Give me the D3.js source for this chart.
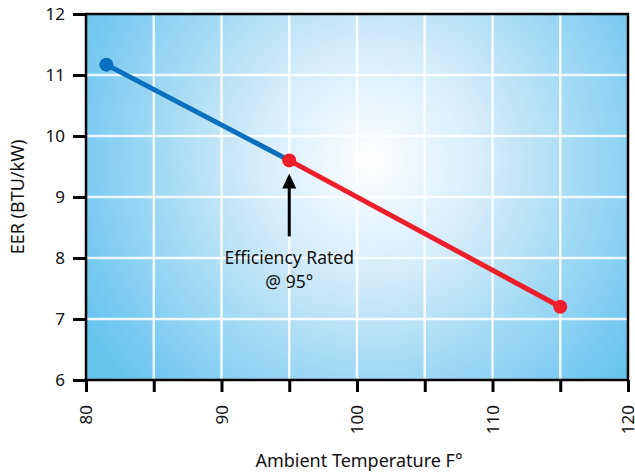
<!DOCTYPE html>
<html>
<head>
<meta charset="utf-8">
<script src="https://cdn.jsdelivr.net/npm/d3@7/dist/d3.min.js"></script>
<style>
  body { margin: 0; background: #fff; }
  svg text { font-family: "Noto Sans", sans-serif; fill: #111; }
</style>
</head>
<body>
<svg id="chart" width="635" height="476"></svg>
<script>
// values
var blueTemps = [81.5, 95];
var blueEer = [11.17, 9.6];
var redTemps = [95, 115];
var redEer = [9.6, 7.2];
var xTicks = [80, 90, 100, 110, 120];
var xMinor = [80, 85, 90, 95, 100, 105, 110, 115, 120];
var yTicks = [6, 7, 8, 9, 10, 11, 12];
var noteTemp = 95;
var noteLines = ['Efficiency Rated', '@ 95°'];

var margin = { top: 14, right: 7, bottom: 96, left: 86 };
var width = 635 - margin.left - margin.right;
var height = 476 - margin.top - margin.bottom;

var svg = d3.select('#chart');
var g = svg.append('g').attr('transform', 'translate(' + margin.left + ',' + margin.top + ')');

var x = d3.scaleLinear().domain([80, 120]).range([0, width]);
var y = d3.scaleLinear().domain([6, 12]).range([height, 0]);

var defs = svg.append('defs');
var grad = defs.append('radialGradient')
    .attr('id', 'bg')
    .attr('gradientUnits', 'userSpaceOnUse')
    .attr('cx', 285).attr('cy', 146).attr('r', 330);
grad.append('stop').attr('offset', '0%').attr('stop-color', '#ffffff');
grad.append('stop').attr('offset', '35%').attr('stop-color', '#d4ecfa');
grad.append('stop').attr('offset', '100%').attr('stop-color', '#66c3ee');

g.append('rect')
    .attr('width', width).attr('height', height)
    .attr('fill', 'url(#bg)');

// grid
g.append('g').selectAll('line')
    .data(xMinor.slice(1, -1))
    .enter().append('line')
    .attr('x1', function (d) { return x(d); })
    .attr('x2', function (d) { return x(d); })
    .attr('y1', 0).attr('y2', height)
    .attr('stroke', 'rgba(255,255,255,0.85)')
    .attr('stroke-width', 2.5);
g.append('g').selectAll('line')
    .data(yTicks.slice(1, -1))
    .enter().append('line')
    .attr('y1', function (d) { return y(d); })
    .attr('y2', function (d) { return y(d); })
    .attr('x1', 0).attr('x2', width)
    .attr('stroke', 'rgba(255,255,255,0.85)')
    .attr('stroke-width', 2.5);

// frame
g.append('rect')
    .attr('width', width).attr('height', height)
    .attr('fill', 'none')
    .attr('stroke', '#000')
    .attr('stroke-width', 2.5);

// y axis
var yAxis = g.append('g')
    .call(d3.axisLeft(y).tickValues(yTicks).tickSize(13).tickPadding(8).tickFormat(d3.format('d')));
yAxis.select('.domain').remove();
yAxis.selectAll('line').attr('stroke', '#000').attr('stroke-width', 3);
yAxis.selectAll('text').style('font-size', '17px').attr('fill', '#111');

// x axis: ticks every 5, labels every 10
var xAxis = g.append('g')
    .attr('transform', 'translate(0,' + height + ')')
    .call(d3.axisBottom(x).tickValues(xMinor).tickSize(12)
        .tickFormat(function (d) { return xTicks.indexOf(d) >= 0 ? d : ''; }));
xAxis.select('.domain').remove();
xAxis.selectAll('line').attr('stroke', '#000').attr('stroke-width', 3);
xAxis.selectAll('text')
    .style('font-size', '17px')
    .attr('fill', '#111')
    .attr('text-anchor', 'end')
    .attr('dy', '0.35em')
    .attr('transform', 'translate(0,12) rotate(-90)')
    .attr('x', -13).attr('y', 0);

// lines
var line = d3.line()
    .x(function (d) { return x(d[0]); })
    .y(function (d) { return y(d[1]); });
var bluePts = d3.zip(blueTemps, blueEer);
var redPts = d3.zip(redTemps, redEer);

g.append('path').datum(bluePts)
    .attr('d', line).attr('fill', 'none')
    .attr('stroke', '#0a6fbd').attr('stroke-width', 5);
g.append('path').datum(redPts)
    .attr('d', line).attr('fill', 'none')
    .attr('stroke', '#ee1f2a').attr('stroke-width', 5);

g.append('g').selectAll('circle')
    .data(bluePts.slice(0, 1))
    .enter().append('circle')
    .attr('cx', function (d) { return x(d[0]); })
    .attr('cy', function (d) { return y(d[1]); })
    .attr('r', 7).attr('fill', '#0a6fbd');
g.append('g').selectAll('circle')
    .data(redPts)
    .enter().append('circle')
    .attr('cx', function (d) { return x(d[0]); })
    .attr('cy', function (d) { return y(d[1]); })
    .attr('r', 7).attr('fill', '#ee1f2a');

// annotation arrow
var ax = x(noteTemp);
var tipY = y(redEer[0]) + 13;
g.append('line')
    .attr('x1', ax).attr('x2', ax)
    .attr('y1', tipY + 10).attr('y2', tipY + 63)
    .attr('stroke', '#000').attr('stroke-width', 3);
g.append('path')
    .attr('d', 'M' + ax + ',' + tipY + 'L' + (ax - 7) + ',' + (tipY + 15) + 'L' + (ax + 7) + ',' + (tipY + 15) + 'Z')
    .attr('fill', '#000');

var note = g.append('text')
    .attr('x', ax).attr('y', tipY + 91)
    .attr('text-anchor', 'middle')
    .style('font-size', '17.5px');
note.selectAll('tspan')
    .data(noteLines)
    .enter().append('tspan')
    .attr('x', ax)
    .attr('dy', function (d, i) { return i === 0 ? 0 : 24; })
    .text(function (d) { return d; });

// axis titles
svg.append('text')
    .attr('transform', 'translate(24,' + (margin.top + height / 2) + ') rotate(-90)')
    .attr('text-anchor', 'middle')
    .style('font-size', '18px')
    .text('EER (BTU/kW)');
svg.append('text')
    .attr('x', 359)
    .attr('y', 467)
    .attr('text-anchor', 'middle')
    .style('font-size', '18px')
    .text('Ambient Temperature F°');
</script>
</body>
</html>
